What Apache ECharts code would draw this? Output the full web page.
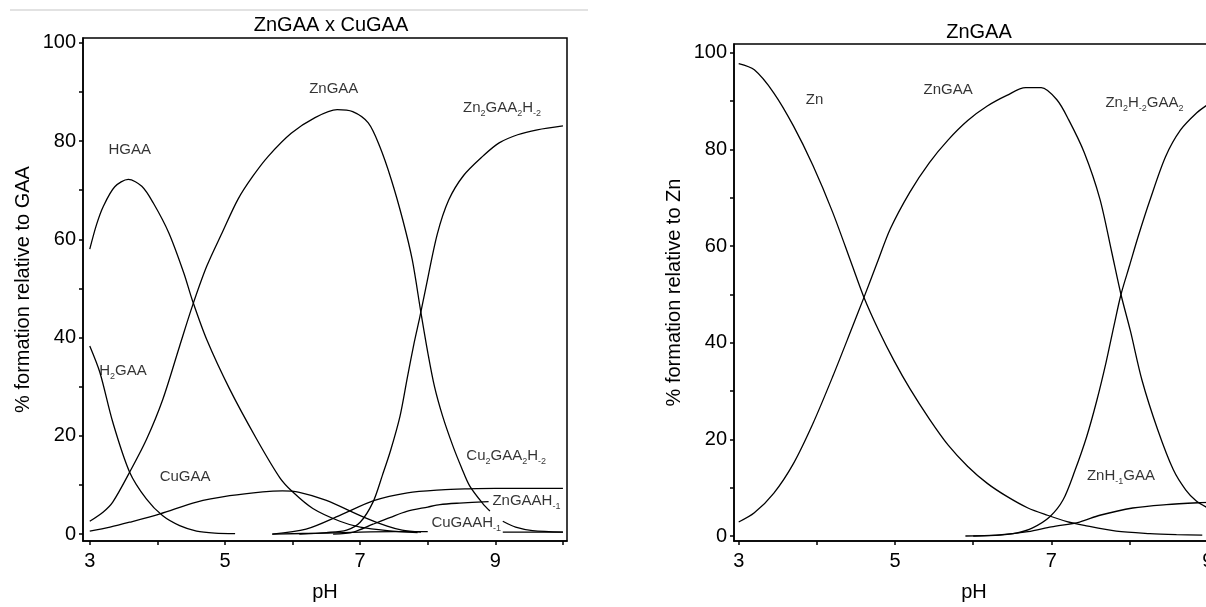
<!DOCTYPE html>
<html><head><meta charset="utf-8">
<script src="https://cdn.jsdelivr.net/npm/echarts@6/dist/echarts.min.js"></script>
<style>
html,body{margin:0;padding:0;width:1206px;height:607px;overflow:hidden;background:#fff}
#c{width:1220px;height:607px}
</style></head>
<body><div id="c"></div>
<script>
// ---------------- data (pH, % formation) ----------------
// Left chart: ZnGAA x CuGAA (% relative to GAA)
const HGAA = [[3.0,58],[3.1,63],[3.2,66.7],[3.37,70.7],[3.57,72.2],[3.77,70.8],[3.94,67.4],[4.17,61.3],[4.39,53.2],[4.52,47.5],[4.73,39.6],[5.07,29.5],[5.47,19.3],[5.81,11.5],[6.0,8.6],[6.3,5.2],[6.7,2.6],[7.0,1.4],[7.4,0.7],[7.85,0.3]];
const H2GAA = [[3.0,38.3],[3.15,32.9],[3.34,22.8],[3.59,12.6],[3.84,7.1],[4.08,3.7],[4.33,1.7],[4.58,0.6],[4.85,0.2],[5.15,0.1]];
const ZnGAA_L = [[3.0,2.6],[3.2,4.5],[3.34,6.5],[3.59,12.6],[3.84,19.3],[4.08,27.4],[4.33,38.3],[4.52,46.5],[4.73,54.5],[4.96,61.4],[5.19,68.1],[5.41,72.8],[5.64,76.9],[5.98,81.6],[6.32,84.7],[6.66,86.4],[6.89,86],[7.12,83.7],[7.29,78.9],[7.46,72.2],[7.63,64],[7.77,55.9],[7.9,45],[8.0,37],[8.1,30],[8.22,24],[8.37,18],[8.5,13.5],[8.62,9.8],[8.82,6.1],[8.92,4.7],[9.0,'-'],[9.11,2.6],[9.3,1.4],[9.55,0.7],[10,0.4]];
const CuGAA = [[3.0,0.6],[3.3,1.4],[3.59,2.4],[4.04,4.1],[4.58,6.5],[5.07,7.8],[5.56,8.6],[5.85,8.8],[6.1,8.5],[6.49,6.9],[7.06,3.4],[7.4,1.6],[7.62,0.8],[7.9,0.4]];
const Zn2GAA2H2 = [[6.1,0],[6.5,0.3],[6.8,0.8],[7.0,2.4],[7.19,6.5],[7.33,12],[7.45,17],[7.59,24],[7.7,32],[7.8,39],[7.88,44],[7.97,50],[8.14,61],[8.31,68],[8.53,73],[8.82,77],[9.05,79.6],[9.33,81.3],[9.62,82.3],[10,83.1]];
const Cu2GAA2H2 = [[5.7,0],[6.2,1.0],[6.7,3.8],[7.2,6.8],[7.7,8.4],[8.2,9.0],[8.6,9.2],[9.0,9.3],[10,9.3]];
const ZnGAAH1 = [[6.6,0],[6.9,0.4],[7.19,2.0],[7.45,3.4],[7.69,4.6],[8.0,5.5],[8.18,6.0],[8.47,6.3],[8.9,6.6]];
const CuGAAH1 = [[5.7,0],[6.5,0.2],[7.0,0.4],[7.5,0.5],[8.0,0.5],[8.5,'-'],[9.11,0.4],[10,0.4]];

// Right chart: ZnGAA (% relative to Zn)
const Zn_R = [[3.0,97.8],[3.2,96.5],[3.45,91.7],[3.7,84.9],[3.95,76.7],[4.2,67.1],[4.45,56.1],[4.6,49.5],[4.79,42.6],[4.99,36.2],[5.19,30.5],[5.44,24.2],[5.68,18.8],[5.93,14.4],[6.18,10.9],[6.43,8.2],[6.7,5.8],[6.95,4.3],[7.2,3.0],[7.42,2.2],[7.83,1.0],[8.26,0.5],[8.6,0.3],[8.93,0.2]];
const ZnGAA_R = [[3.0,2.9],[3.2,4.8],[3.45,8.9],[3.7,15],[3.95,23.3],[4.2,32.9],[4.45,43.1],[4.6,49.3],[4.77,56.5],[4.94,63.6],[5.19,71.2],[5.44,77.3],[5.68,82.0],[5.93,86.0],[6.18,89],[6.43,91.2],[6.67,92.8],[6.87,92.8],[7.07,90.3],[7.22,86.2],[7.42,79.4],[7.62,69.8],[7.77,58.9],[7.89,50],[8.01,42.5],[8.16,32.2],[8.36,22],[8.56,13.7],[8.72,9.5],[8.85,7.3],[9.0,5.8],[9.1,5.0]];
const Zn2H2GAA2_R = [[6.0,0],[6.34,0.2],[6.55,0.6],[6.76,1.7],[6.98,4.0],[7.15,7.5],[7.3,13.5],[7.45,20.5],[7.58,28],[7.7,36],[7.8,43.5],[7.89,50],[8.0,56],[8.11,62],[8.26,69.5],[8.46,78.5],[8.65,84],[8.86,87.6],[9.0,89.3],[9.1,90.2]];
const ZnH1GAA_R = [[5.9,0],[6.3,0.2],[6.7,0.9],[7.0,1.9],[7.36,2.9],[7.62,4.3],[8.04,5.8],[8.47,6.5],[8.9,6.9],[9.1,7.0]];

// tick values
const xTicks = [3,4,5,6,7,8,9,10];
const xLabels = [3,5,7,9];
const yTicks = [0,10,20,30,40,50,60,70,80,90,100];
const yLabels = [0,20,40,60,80,100];

// curve labels: [pH, value, rich text]
const leftLabels = [
  [3.59, 78.3, '{n|HGAA}'],
  [6.61, 90.6, '{n|ZnGAA}'],
  [9.10, 86.8, '{n|Zn}{s|2}{n|GAA}{s|2}{n|H}{s|-2}'],
  [3.49, 33.2, '{n|H}{s|2}{n|GAA}'],
  [4.41, 11.6, '{n|CuGAA}'],
  [9.16, 15.9, '{n|Cu}{s|2}{n|GAA}{s|2}{n|H}{s|-2}'],
  [9.46, 6.8, '{n|ZnGAAH}{s|-1}'],
  [8.57, 2.2, '{n|CuGAAH}{s|-1}']
];
const rightLabels = [
  [3.97, 90.3, '{n|Zn}'],
  [5.68, 92.3, '{n|ZnGAA}'],
  [8.19, 89.7, '{n|Zn}{s|2}{n|H}{s|-2}{n|GAA}{s|2}'],
  [7.89, 12.5, '{n|ZnH}{s|-1}{n|GAA}']
];

// ---------------- chart ----------------
const FONT = '"Liberation Sans", Arial, "DejaVu Sans", sans-serif';
const chart = echarts.init(document.getElementById('c'), null, {renderer: 'canvas'});

function curve(data, gi) {
  return {type: 'line', xAxisIndex: gi, yAxisIndex: gi, data: data, symbol: 'none', showSymbol: false,
    smooth: 0.3, connectNulls: false, silent: true, animation: false,
    lineStyle: {color: '#000', width: 1.3}};
}
function labels(list, gi) {
  return {type: 'scatter', xAxisIndex: gi, yAxisIndex: gi, symbolSize: 0, silent: true, animation: false,
    data: list.map(d => ({value: [d[0], d[1]], name: d[2]})),
    label: {show: true, position: 'inside', formatter: p => p.name,
      rich: {
        n: {fontFamily: FONT, fontSize: 15, color: '#000', lineHeight: 20},
        s: {fontFamily: FONT, fontSize: 9, color: '#000', lineHeight: 10, verticalAlign: 'bottom'}
      }}};
}
function xAxis(gi, min, max) {
  return {gridIndex: gi, type: 'value', min: min, max: max,
    axisLine: {show: true, onZero: false, lineStyle: {color: '#000', width: 1.5}},
    splitLine: {show: false},
    axisTick: {show: true, customValues: xTicks, length: 4, lineStyle: {color: '#000', width: 1.5}},
    axisLabel: {customValues: xLabels, fontSize: 20, color: '#000', fontFamily: FONT, margin: 10},
    name: 'pH', nameLocation: 'middle', nameGap: 41,
    nameTextStyle: {fontSize: 20, color: '#000', fontFamily: FONT}};
}
function yAxis(gi, min, max, name) {
  return {gridIndex: gi, type: 'value', min: min, max: max,
    axisLine: {show: true, onZero: false, lineStyle: {color: '#000', width: 1.5}},
    splitLine: {show: false},
    axisTick: {show: true, customValues: yTicks, length: 4, lineStyle: {color: '#000', width: 1.5}},
    axisLabel: {customValues: yLabels, fontSize: 20, color: '#000', fontFamily: FONT, margin: 7},
    name: name, nameLocation: 'middle', nameGap: 50,
    nameTextStyle: {fontSize: 20, color: '#000', fontFamily: FONT}};
}

chart.setOption({
  animation: false,
  backgroundColor: '#fff',
  title: [
    {text: 'ZnGAA x CuGAA', left: 326, top: 10, textAlign: 'center',
      textStyle: {fontSize: 20, fontWeight: 'normal', color: '#000', fontFamily: FONT}},
    {text: 'ZnGAA', left: 974, top: 17, textAlign: 'center',
      textStyle: {fontSize: 20, fontWeight: 'normal', color: '#000', fontFamily: FONT}}
  ],
  grid: [
    {left: 83, top: 38, width: 484, height: 504, show: true, borderColor: '#000', borderWidth: 1.5, backgroundColor: 'transparent'},
    {left: 734, top: 44, width: 480, height: 501, show: true, borderColor: '#000', borderWidth: 1.5, backgroundColor: 'transparent'}
  ],
  xAxis: [xAxis(0, 2.9, 10.06), xAxis(1, 2.94, 9.08)],
  yAxis: [yAxis(0, -1.42, 101.0, '% formation relative to GAA'), yAxis(1, -1.03, 101.85, '% formation relative to Zn')],
  graphic: [
    {type: 'line', shape: {x1: 10, y1: 10, x2: 588, y2: 10}, style: {stroke: '#e2e2e2', lineWidth: 2}, silent: true}
  ],
  series: [
    curve(HGAA, 0), curve(H2GAA, 0), curve(ZnGAA_L, 0), curve(CuGAA, 0),
    curve(Zn2GAA2H2, 0), curve(Cu2GAA2H2, 0), curve(ZnGAAH1, 0), curve(CuGAAH1, 0),
    curve(Zn_R, 1), curve(ZnGAA_R, 1), curve(Zn2H2GAA2_R, 1), curve(ZnH1GAA_R, 1),
    labels(leftLabels, 0), labels(rightLabels, 1)
  ]
});
</script>
</body></html>
